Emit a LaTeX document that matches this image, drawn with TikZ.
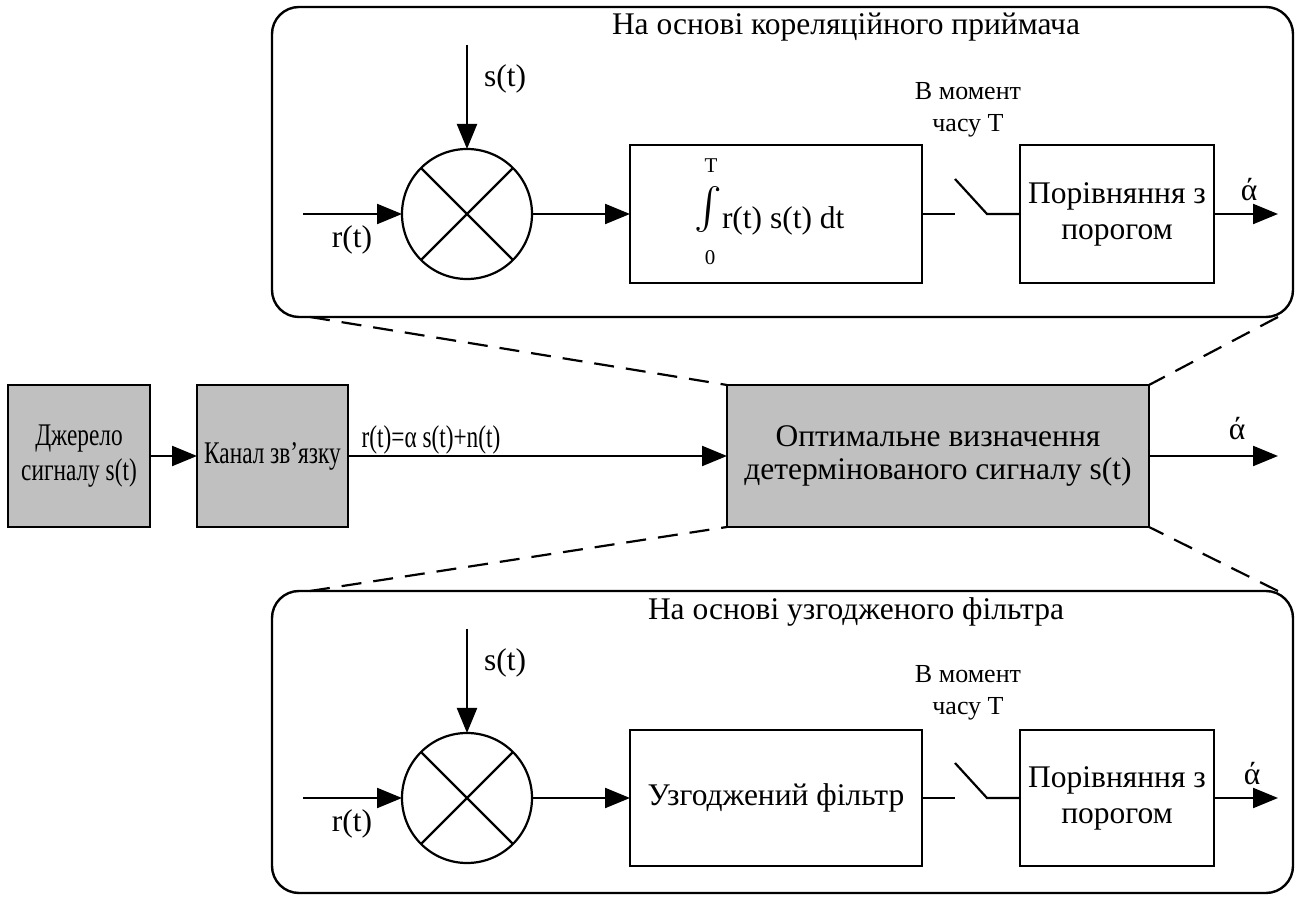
\documentclass[tikz,border=0pt]{standalone}
\usepackage{amsmath}
\usepackage{fontspec}
\setmainfont{Liberation Serif}
\newfontfamily\narrowfont{Liberation Serif}[FakeStretch=0.74]
\usetikzlibrary{arrows.meta}
\definecolor{boxgray}{RGB}{192,192,192}
\begin{document}
\begin{tikzpicture}[x=0.5pt,y=-0.5pt,
  every node/.style={font=\fontsize{15.75}{18}\selectfont, inner sep=0pt, outer sep=0pt},
  blk/.style={draw, line width=1.1pt, align=center},
  gblk/.style={blk, fill=boxgray},
  narrow/.style={font=\narrowfont\fontsize{15.75}{17.5}\selectfont},
  rbox/.style={draw, line width=1.2pt, rounded corners=13.5pt},
  mult/.style={draw, circle, line width=1.1pt, minimum size=65pt},
  small/.style={font=\fontsize{13}{16}\selectfont, align=center},
  limit/.style={font=\fontsize{10.5}{11}\selectfont},
  wire/.style={line width=1.1pt},
  arr/.style={wire, -{Triangle[length=12.5pt,width=10pt]}},
  dashline/.style={line width=1.1pt, dash pattern=on 10pt off 6pt}
]
\useasboundingbox (0,0) rectangle (1303,897);

% ---------- middle row ----------
\node[gblk, narrow, minimum width=71pt, minimum height=71pt] (src) at (79,456) {Джерело\\сигналу s(t)};
\node[gblk, narrow, minimum width=75.5pt, minimum height=71pt] (chan) at (272.5,456) {Канал зв’язку};
\node[gblk, minimum width=211pt, minimum height=71pt, font=\fontsize{15.75}{16.5}\selectfont] (opt) at (938,456) {Оптимальне визначення\\детермінованого сигналу s(t)};
\coordinate (outm) at (1278,456);
\draw[arr] (src) -- (chan);
\draw[arr] (chan) -- (opt);
\draw[arr] (opt) -- (outm);
\node[narrow] (rlab) at (431,440) {r(t)=α s(t)+n(t)};
\node (am) at (1237,429) {ά};

% ---------- top section ----------
\node[rbox, minimum width=510.5pt, minimum height=155pt] (topbox) at (782.5,162) {};
\node[anchor=west] (ttl1) at (612,27) {На основі кореляційного приймача};
\node[mult] (mul1) at (467,214) {};
\draw[wire] (mul1.north west) -- (mul1.south east);
\draw[wire] (mul1.north east) -- (mul1.south west);
\coordinate (sin1) at (467,45);
\coordinate (rin1) at (303,214);
\draw[arr] (sin1) -- (mul1.north);
\draw[arr] (rin1) -- (mul1.west);
\node (s1) at (505,79) {s(t)};
\node (r1) at (352,240) {r(t)};
\node[blk, minimum width=146pt, minimum height=69pt] (integ) at (776,214) {};
\draw[arr] (mul1.east) -- (integ.west);
\node (intsign) at (708,220) {\fontsize{20}{20}\selectfont$\smash{\int}$};
\node[limit] (intT) at (711,166) {T};
\node[limit] (int0) at (710,258) {0};
\node[anchor=base west] (intarg) at (722,229) {r(t) s(t) dt};
\node[blk, minimum width=97pt, minimum height=69pt] (cmp1) at (1117,214) {Порівняння з\\порогом};
\coordinate (swa1) at (955,214);
\coordinate (swb1) at (955,179);
\coordinate (swc1) at (987,214);
\draw[wire] (integ.east) -- (swa1);
\draw[wire] (swb1) -- (swc1) -- (cmp1.west);
\node[small] (mom1) at (968,110) {В момент\\часу Т};
\coordinate (out1) at (1278,214);
\draw[arr] (cmp1.east) -- (out1);
\node (a1) at (1249,190) {ά};

% ---------- bottom section ----------
\node[rbox, minimum width=510.5pt, minimum height=151pt] (botbox) at (782.5,742) {};
\node[anchor=west] (ttl2) at (648,612) {На основі узгодженого фільтра};
\node[mult] (mul2) at (467,798) {};
\draw[wire] (mul2.north west) -- (mul2.south east);
\draw[wire] (mul2.north east) -- (mul2.south west);
\coordinate (sin2) at (467,629);
\coordinate (rin2) at (303,798);
\draw[arr] (sin2) -- (mul2.north);
\draw[arr] (rin2) -- (mul2.west);
\node (s2) at (505,663) {s(t)};
\node (r2) at (352,824) {r(t)};
\node[blk, minimum width=146pt, minimum height=68pt] (filt) at (776,798) {Узгоджений фільтр};
\draw[arr] (mul2.east) -- (filt.west);
\node[blk, minimum width=97pt, minimum height=68pt] (cmp2) at (1117,798) {Порівняння з\\порогом};
\coordinate (swa2) at (955,798);
\coordinate (swb2) at (955,763);
\coordinate (swc2) at (987,798);
\draw[wire] (filt.east) -- (swa2);
\draw[wire] (swb2) -- (swc2) -- (cmp2.west);
\node[small] (mom2) at (968,693) {В момент\\часу Т};
\coordinate (out2) at (1278,798);
\draw[arr] (cmp2.east) -- (out2);
\node (a2) at (1252,774) {ά};

% ---------- dashed zoom lines ----------
\coordinate (tl) at (310,317);
\coordinate (tr) at (1278,317);
\coordinate (bl) at (310,591);
\coordinate (br) at (1278,591);
\draw[dashline] (tl) -- (opt.north west);
\draw[dashline] (tr) -- (opt.north east);
\draw[dashline] (bl) -- (opt.south west);
\draw[dashline] (br) -- (opt.south east);
\end{tikzpicture}
\end{document}
